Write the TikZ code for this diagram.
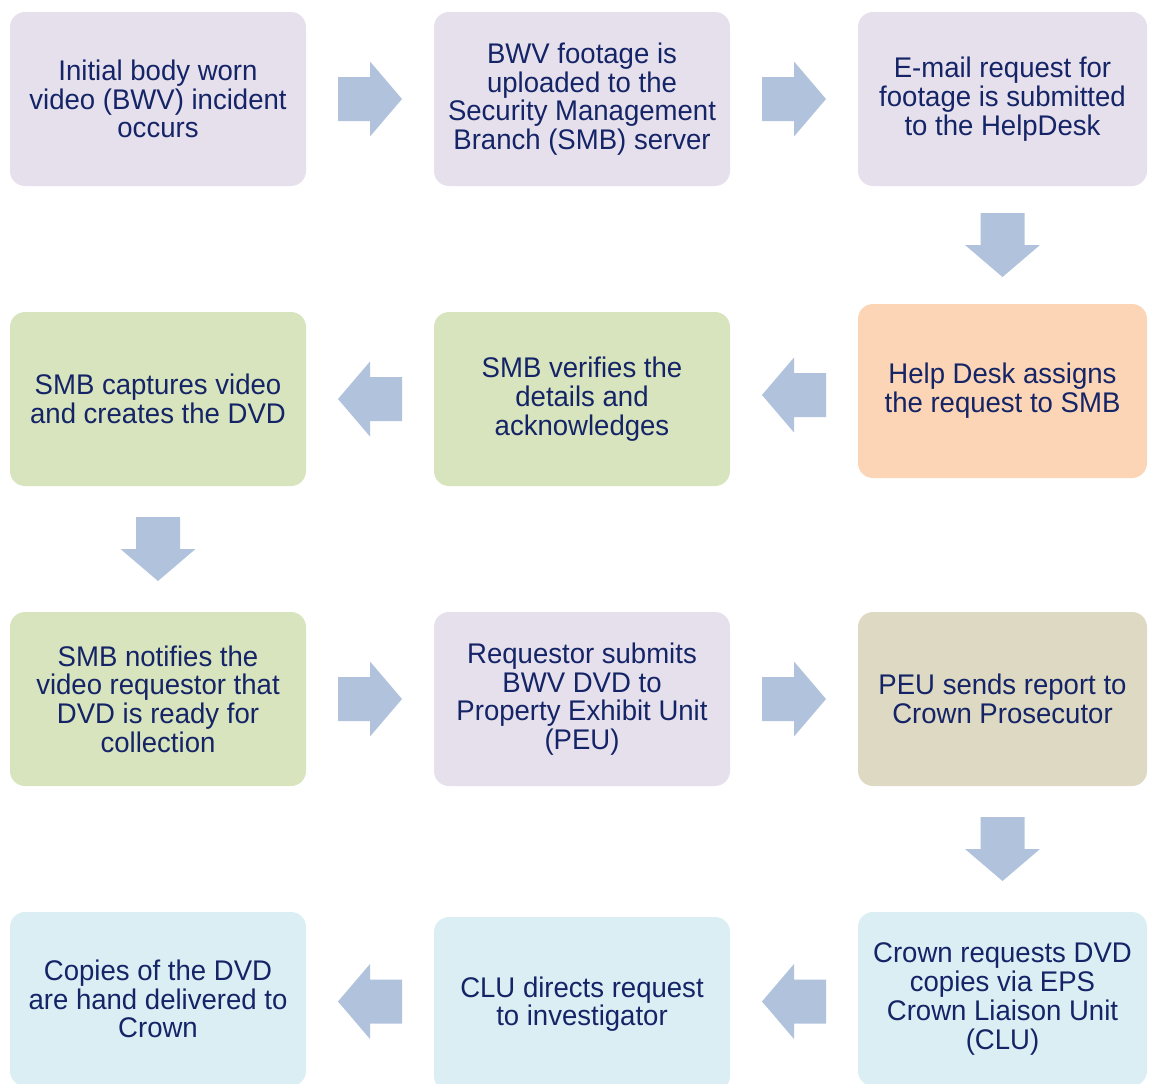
\documentclass[tikz,border=0pt]{standalone}
\usepackage{fontspec}
\setmainfont{Liberation Sans}[FakeStretch=0.97]
\usepackage{xcolor}
\usetikzlibrary{calc}

\definecolor{textnavy}{HTML}{142466}
\definecolor{boxlilac}{HTML}{E5E0EC}
\definecolor{boxgreen}{HTML}{D7E4BD}
\definecolor{boxorange}{HTML}{FBD5B5}
\definecolor{boxtan}{HTML}{DDD9C3}
\definecolor{boxblue}{HTML}{DBEEF4}
\definecolor{arrowblue}{HTML}{B1C2DC}

\tikzset{
  stagebox/.style={rounded corners=15pt, minimum width=296pt, minimum height=174pt,
    inner sep=0pt, align=center, text=textnavy,
    font={\fontsize{28.4}{28.7}\selectfont\lineskiplimit=-30pt}},
  lilac/.style={fill=boxlilac},
  green/.style={fill=boxgreen},
  orange/.style={fill=boxorange},
  tan/.style={fill=boxtan},
  pale/.style={fill=boxblue},
  lastcol/.style={minimum width=289pt},
  flowarrow/.pic={\fill[arrowblue] (-32,-22) -- (0,-22) -- (0,-37.5) -- (32,0)
    -- (0,37.5) -- (0,22) -- (-32,22) -- cycle;}
}

\begin{document}
\begin{tikzpicture}[x=1pt,y=1pt]
      \useasboundingbox (0,0) rectangle (1149,-1084);
      % row 1
      \node[stagebox,lilac] (incident) at (158,-99) {Initial body worn\\video (BWV) incident\\occurs};
      \node[stagebox,lilac] (upload) at (582,-99) {BWV footage is\\uploaded to the\\Security Management\\Branch (SMB) server};
      \node[stagebox,lilac,lastcol] (email) at (1002.5,-99) {E-mail request for\\footage is submitted\\to the HelpDesk};
      % row 2
      \node[stagebox,green] (capture) at (158,-399) {SMB captures video\\and creates the DVD};
      \node[stagebox,green] (verify) at (582,-399) {SMB verifies the\\details and\\acknowledges};
      \node[stagebox,orange,lastcol] (assign) at (1002.5,-391) {Help Desk assigns\\the request to SMB};
      % row 3
      \node[stagebox,green] (notify) at (158,-699) {SMB notifies the\\video requestor that\\DVD is ready for\\collection};
      \node[stagebox,lilac] (submit) at (582,-699) {Requestor submits\\BWV DVD to\\Property Exhibit Unit\\(PEU)};
      \node[stagebox,tan,lastcol] (report) at (1002.5,-699) {PEU sends report to\\Crown Prosecutor};
      % row 4
      \node[stagebox,pale] (copies) at (158,-999) {Copies of the DVD\\are hand delivered to\\Crown};
      \node[stagebox,pale] (direct) at (582,-1004) {CLU directs request\\to investigator};
      \node[stagebox,pale,lastcol] (crown) at (1002.5,-999) {Crown requests DVD\\copies via EPS\\Crown Liaison Unit\\(CLU)};

      \pic at ($(incident.east)!0.5!(upload.west)$) {flowarrow};
      \pic at ($(upload.east)!0.5!(email.west)$) {flowarrow};
      \pic[rotate=-90] at ($(email.south)!0.5!(assign.north)$) {flowarrow};
      \pic[rotate=180] at ($(assign.west)!0.5!(verify.east)$) {flowarrow};
      \pic[rotate=180] at ($(verify.west)!0.5!(capture.east)$) {flowarrow};
      \pic[rotate=-90] at ($(capture.south)!0.5!(notify.north)$) {flowarrow};
      \pic at ($(notify.east)!0.5!(submit.west)$) {flowarrow};
      \pic at ($(submit.east)!0.5!(report.west)$) {flowarrow};
      \pic[rotate=-90] at ($(report.south)!0.5!(crown.north)$) {flowarrow};
      \pic[rotate=180] at ($(crown.west)!0.5!(direct.east)$) {flowarrow};
      \pic[rotate=180] at ($(direct.west)!0.5!(copies.east)$) {flowarrow};
    \end{tikzpicture}
\end{document}
